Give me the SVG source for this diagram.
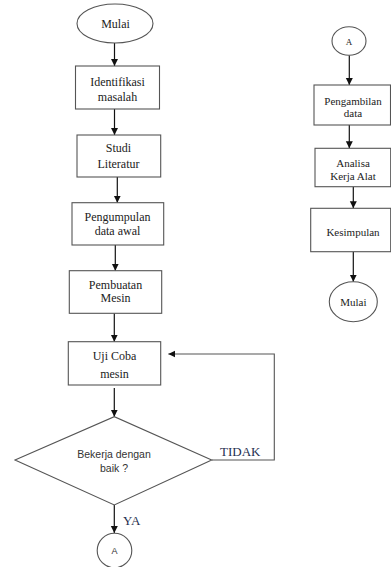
<svg xmlns="http://www.w3.org/2000/svg" width="391" height="567" viewBox="0 0 391 567">
<defs>
<marker id="ah" markerUnits="userSpaceOnUse" markerWidth="8" markerHeight="8" refX="7" refY="3.5" orient="auto">
<path d="M0,0 L7,3.5 L0,7 z" fill="#111"/>
</marker>
<style>
.s{fill:#fff;stroke:#555;stroke-width:1.1}
.t{font-family:'Liberation Serif','Times New Roman',Times,'DejaVu Serif',serif;font-size:12px;fill:#222;text-anchor:middle}
.tr{font-family:'Liberation Serif','Times New Roman',Times,'DejaVu Serif',serif;font-size:11px;fill:#222;text-anchor:middle}
.sans{font-family:'Liberation Sans',Arial,sans-serif;font-size:10.5px;fill:#333;text-anchor:middle}
.lbl{font-family:'Liberation Serif','Times New Roman',Times,'DejaVu Serif',serif;font-size:13px;fill:#1f2f50}
.c{fill:none;stroke:#111;stroke-width:1.2}
.fb{fill:none;stroke:#555;stroke-width:1.1}
</style>
</defs>
<g id="connectors">
<line class="c" x1="114.5" y1="43" x2="114.5" y2="66" marker-end="url(#ah)"/>
<line class="c" x1="114.5" y1="109" x2="114.5" y2="135" marker-end="url(#ah)"/>
<line class="c" x1="117.3" y1="177" x2="117.3" y2="202.7" marker-end="url(#ah)"/>
<line class="c" x1="115.3" y1="245" x2="115.3" y2="270.7" marker-end="url(#ah)"/>
<line class="c" x1="114.3" y1="313.3" x2="114.3" y2="341.7" marker-end="url(#ah)"/>
<line class="c" x1="114.3" y1="388" x2="114.3" y2="416.7" marker-end="url(#ah)"/>
<polyline class="fb" points="211.7,460 274.3,460 274.3,354 168.3,354" marker-end="url(#ah)"/>
<line class="c" x1="114.3" y1="505" x2="114.3" y2="533" marker-end="url(#ah)"/>
<line class="c" x1="349.3" y1="55.3" x2="349.3" y2="85" marker-end="url(#ah)"/>
<line class="c" x1="349.3" y1="125" x2="349.3" y2="148.3" marker-end="url(#ah)"/>
<line class="c" x1="353.3" y1="186.7" x2="353.3" y2="208.3" marker-end="url(#ah)"/>
<line class="c" x1="353.3" y1="251.7" x2="353.3" y2="281.7" marker-end="url(#ah)"/>
<text class="lbl" x="220" y="455.5">TIDAK</text>
<text class="lbl" x="123" y="524.5">YA</text>
</g>
<g id="start">
<ellipse class="s" cx="115" cy="23.5" rx="38" ry="19.5"/>
<text class="t" x="115.5" y="27.5">Mulai</text>
</g>
<g id="identifikasi">
<rect class="s" x="75.5" y="66" width="84" height="43"/>
<text class="t" x="117.5" y="86">Identifikasi</text>
<text class="t" x="117.5" y="101">masalah</text>
</g>
<g id="studi">
<rect class="s" x="77" y="135" width="83.7" height="42"/>
<text class="t" x="118.5" y="152">Studi</text>
<text class="t" x="118.5" y="168">Literatur</text>
</g>
<g id="pengumpulan">
<rect class="s" x="72" y="202.7" width="91.7" height="42.3"/>
<text class="t" x="117.5" y="220.7">Pengumpulan</text>
<text class="t" x="117.5" y="234.7">data awal</text>
</g>
<g id="pembuatan">
<rect class="s" x="69.3" y="270.7" width="92.4" height="42.6"/>
<text class="t" x="115.5" y="289">Pembuatan</text>
<text class="t" x="115.5" y="302">Mesin</text>
</g>
<g id="ujicoba">
<rect class="s" x="68.3" y="341.7" width="92.4" height="43.3"/>
<text class="t" x="114.5" y="359.7">Uji Coba</text>
<text class="t" x="114.5" y="378">mesin</text>
</g>
<g id="decision">
<polygon class="s" points="15,460 114.3,416.7 211.7,460 114.3,505"/>
<text class="sans" x="114" y="457.5">Bekerja dengan</text>
<text class="sans" x="114" y="471.5">baik ?</text>
</g>
<g id="connectorA1">
<circle class="s" cx="114.5" cy="550.5" r="17.3"/>
<text class="sans" x="114.5" y="554" style="font-size:9px">A</text>
</g>
<g id="connectorA2">
<ellipse class="s" cx="349" cy="41" rx="17" ry="14.3"/>
<text class="tr" x="349" y="44.5" style="font-size:9px">A</text>
</g>
<g id="pengambilan">
<rect class="s" x="314" y="85" width="76.5" height="40"/>
<text class="tr" x="353" y="104.7">Pengambilan</text>
<text class="tr" x="353" y="117.3">data</text>
</g>
<g id="analisa">
<rect class="s" x="315" y="148.3" width="75.7" height="38.4"/>
<text class="tr" x="353" y="166.7">Analisa</text>
<text class="tr" x="353" y="180">Kerja Alat</text>
</g>
<g id="kesimpulan">
<rect class="s" x="310.7" y="208.3" width="80" height="43.4"/>
<text class="tr" x="353" y="235.7">Kesimpulan</text>
</g>
<g id="end">
<ellipse class="s" cx="353.3" cy="301.7" rx="24" ry="20"/>
<text class="tr" x="353.3" y="305.5">Mulai</text>
</g>
</svg>
